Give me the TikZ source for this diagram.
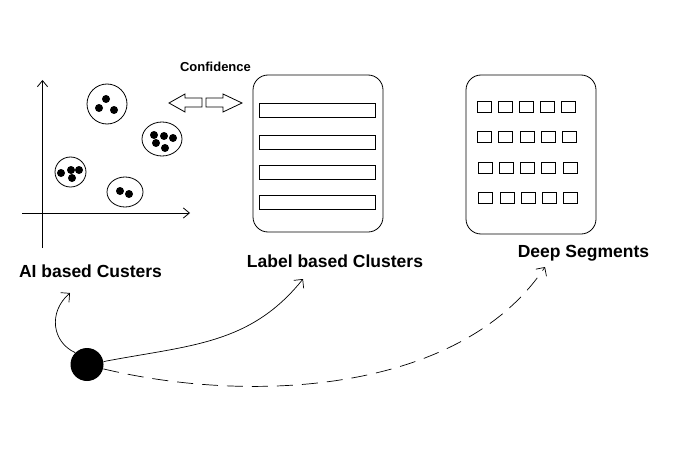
\documentclass[tikz,border=0pt]{standalone}
\usepackage{fontspec}
\setmainfont{Liberation Sans}
\usetikzlibrary{arrows.meta,shapes.geometric}
\begin{document}
\begin{tikzpicture}[x=1pt,y=-1pt,line width=0.8pt,
  clus/.style={shape=ellipse,draw=black,inner sep=0pt},
  panel/.style={shape=rectangle,draw=black,rounded corners=15pt,minimum width=130pt},
  bar/.style={shape=rectangle,draw=black,minimum width=116pt,minimum height=14pt,inner sep=0pt},
  seg/.style={shape=rectangle,draw=black,minimum width=14pt,minimum height=11pt,inner sep=0pt},
  lbl/.style={anchor=base,font=\bfseries\fontsize{17.5}{20}\selectfont},
  hub/.style={shape=circle,fill=black,minimum size=33pt,inner sep=0pt},
  axis/.style={-{Straight Barb[angle=80:8pt]}},
  link/.style={-{Straight Barb[angle=90:9pt]},line width=0.7pt}]
\useasboundingbox (0,0) rectangle (692,468);

% axes
\draw[axis] (22,213) -- (190,213);
\draw[axis] (42.5,248) -- (42.5,80);

% clusters
\node[clus,minimum width=40pt,minimum height=40pt] (ca) at (107,104) {};
\node[clus,minimum width=40pt,minimum height=34pt] (cb) at (162,139) {};
\node[clus,minimum width=31pt,minimum height=30pt] (cc) at (70.5,172) {};
\node[clus,minimum width=36pt,minimum height=30pt] (cd) at (125,192) {};
\foreach \x/\y in {106/99,99/108,114/110, 154/135,164/136,173/138,156/143,165/148, 61/173,71/170,79/170,72/178, 120/191,129/194}
  \fill (\x,\y) circle (4);

% confidence arrows
\node[anchor=base,font=\bfseries\fontsize{13}{15}\selectfont] (conf) at (215.5,72) {Confidence};
\draw (169,103) -- (185,94) -- (185,98) -- (202,98) -- (202,107) -- (185,107) -- (185,112) -- cycle;
\draw (242,103) -- (223,94) -- (223,98) -- (206,98) -- (206,107) -- (223,107) -- (223,112) -- cycle;

% label based clusters
\node[panel,minimum height=157pt] (lbox) at (318,153.5) {};
\foreach \y in {110,142,172,202}
  \node[bar] (bar\y) at (317,\y) {};

% deep segments
\node[panel,minimum height=159pt] (dbox) at (531,154.5) {};
\foreach \r/\y in {0/106.5,1/136.5,2/167.5,3/198}
  \foreach \c in {0,...,4}
    \node[seg] (s\r\c) at (484+21.2*\c+0.6*\r,\y) {};

\node[lbl] (ai) at (90.5,277) {AI based Custers};
\node[lbl] (lb) at (335,267) {Label based Clusters};
\node[lbl] (ds) at (583.5,257) {Deep Segments};

% source and links
\node[hub] (src) at (87,364.5) {};
\coordinate (t1) at (70,293);
\coordinate (t2) at (303,279);
\coordinate (t3) at (545,267);
\draw[link] (src.135) .. controls (52,342) and (48,312) .. (t1);
\draw[link] (src.10) .. controls (190,345) and (250,345) .. (t2);
\draw[link,dash pattern=on 16pt off 9pt] (src.-15) .. controls (250,404) and (460,394) .. (t3);
\end{tikzpicture}
\end{document}
